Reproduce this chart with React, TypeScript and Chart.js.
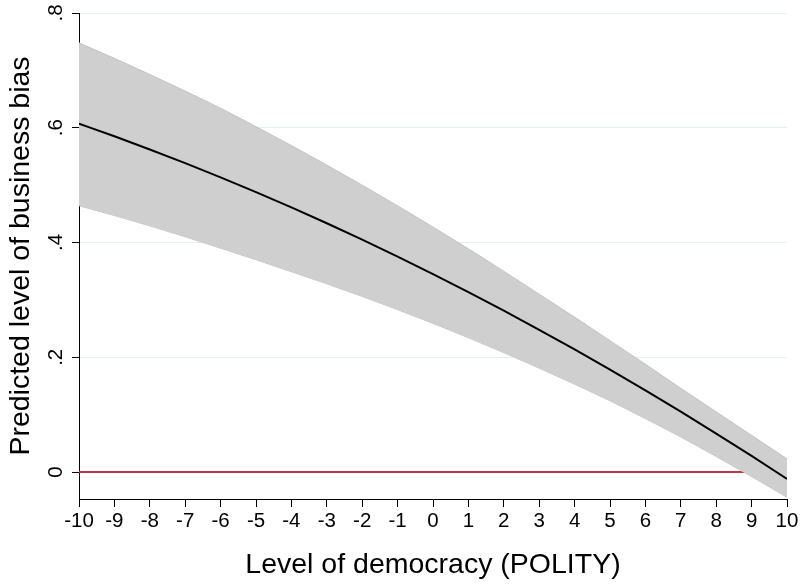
import React, { useEffect, useRef } from "react";
import { Chart, registerables } from "chart.js";

Chart.register(...registerables);

const polityValues = [-10, -9, -8, -7, -6, -5, -4, -3, -2, -1, 0, 1, 2, 3, 4, 5, 6, 7, 8, 9, 10];
const predictedValues = [0.607, 0.5851, 0.5622, 0.5384, 0.5136, 0.4879, 0.4612, 0.4336, 0.405, 0.3755, 0.345, 0.3136, 0.2812, 0.2479, 0.2136, 0.1784, 0.1422, 0.1051, 0.067, 0.028, -0.012];
const upperValues = [0.748, 0.721, 0.693, 0.664, 0.634, 0.602, 0.569, 0.535, 0.5, 0.464, 0.427, 0.389, 0.35, 0.31, 0.27, 0.229, 0.188, 0.146, 0.105, 0.064, 0.023];
const lowerValues = [0.464, 0.447, 0.429, 0.41, 0.39, 0.37, 0.349, 0.328, 0.306, 0.283, 0.259, 0.234, 0.208, 0.181, 0.153, 0.124, 0.093, 0.061, 0.027, -0.008, -0.044];
const zeroLineX = [-10, 10];
const zeroLineY = [0, 0];
const yTickValues = [0, 0.2, 0.4, 0.6, 0.8];
const yTickLabels = ["0", ".2", ".4", ".6", ".8"];
const xTitle = "Level of democracy (POLITY)";
const yTitle = "Predicted level of business bias";

const FONT = "'Liberation Sans', Arial, Helvetica, sans-serif";

export default function App() {
  const ref = useRef<HTMLCanvasElement | null>(null);

  useEffect(() => {
    document.body.style.margin = "0";
    const canvas = ref.current;
    if (!canvas) return;
    const pts = (ys: number[]) => polityValues.map((x, i) => ({ x, y: ys[i] }));
    const chart = new Chart(canvas, {
      type: "line",
      data: {
        datasets: [
          {
            label: "Predicted",
            data: pts(predictedValues),
            borderColor: "#000000",
            borderWidth: 2,
            pointRadius: 0,
            fill: false,
            cubicInterpolationMode: "monotone",
            order: 0,
          },
          {
            label: "Upper",
            data: pts(upperValues),
            borderColor: "#c4c4c4",
            borderWidth: 1,
            backgroundColor: "#cfcfcf",
            pointRadius: 0,
            fill: "+1",
            cubicInterpolationMode: "monotone",
            order: 1,
          },
          {
            label: "Lower",
            data: pts(lowerValues),
            borderColor: "#c4c4c4",
            borderWidth: 1,
            pointRadius: 0,
            fill: false,
            cubicInterpolationMode: "monotone",
            order: 2,
          },
          {
            label: "Zero",
            data: zeroLineX.map((x, i) => ({ x, y: zeroLineY[i] })),
            borderColor: "#c5324a",
            borderWidth: 2,
            pointRadius: 0,
            fill: false,
            order: 3,
          },
        ],
      },
      options: {
        animation: false,
        responsive: false,
        events: [],
        layout: { padding: { top: 13, right: 13, left: 0, bottom: 0 } },
        plugins: { legend: { display: false }, tooltip: { enabled: false } },
        scales: {
          x: {
            type: "linear",
            min: -10,
            max: 10,
            afterFit: (s: any) => {
              s.height = 85;
              s.paddingLeft = 0;
              s.paddingRight = 0;
            },
            afterBuildTicks: (s: any) => {
              s.ticks = polityValues.map((v) => ({ value: v }));
            },
            ticks: {
              autoSkip: false,
              maxRotation: 0,
              minRotation: 0,
              padding: 2,
              color: "#000",
              font: { family: FONT, size: 20.5 },
              callback: (v: any) => String(v),
            },
            grid: {
              drawOnChartArea: false,
              drawTicks: true,
              tickLength: 8,
              tickColor: "#000",
              tickWidth: 1,
            },
            border: { display: true, color: "#000", width: 1 },
            title: {
              display: true,
              text: xTitle,
              color: "#000",
              font: { family: FONT, size: 28.5 },
              padding: { top: 0, bottom: 2 },
            },
          },
          y: {
            type: "linear",
            min: -0.047,
            max: 0.8,
            afterFit: (s: any) => {
              s.width = 79;
              s.paddingTop = 0;
              s.paddingBottom = 0;
            },
            afterBuildTicks: (s: any) => {
              s.ticks = yTickValues.map((v) => ({ value: v }));
            },
            ticks: {
              minRotation: 90,
              maxRotation: 90,
              crossAlign: "center",
              padding: 7,
              color: "#000",
              font: { family: FONT, size: 20.5 },
              callback: (v: any) => {
                const i = yTickValues.findIndex((t) => Math.abs(t - v) < 1e-9);
                return i >= 0 ? yTickLabels[i] : "";
              },
            },
            grid: {
              drawOnChartArea: true,
              drawTicks: true,
              tickLength: 7,
              tickColor: "#000",
              tickWidth: 1,
              lineWidth: 1,
              color: (ctx: any) => (ctx.tick && Math.abs(ctx.tick.value) < 1e-9 ? "rgba(0,0,0,0)" : "#e6eff1"),
            },
            border: { display: true, color: "#000", width: 1 },
            title: {
              display: true,
              text: yTitle,
              color: "#000",
              font: { family: FONT, size: 28.5 },
              padding: { top: 4, bottom: 0 },
            },
          },
        },
      },
    });
    return () => chart.destroy();
  }, []);

  return (
    <div style={{ width: 800, height: 584 }}>
      <canvas ref={ref} width={800} height={584} style={{ display: "block" }} />
    </div>
  );
}
